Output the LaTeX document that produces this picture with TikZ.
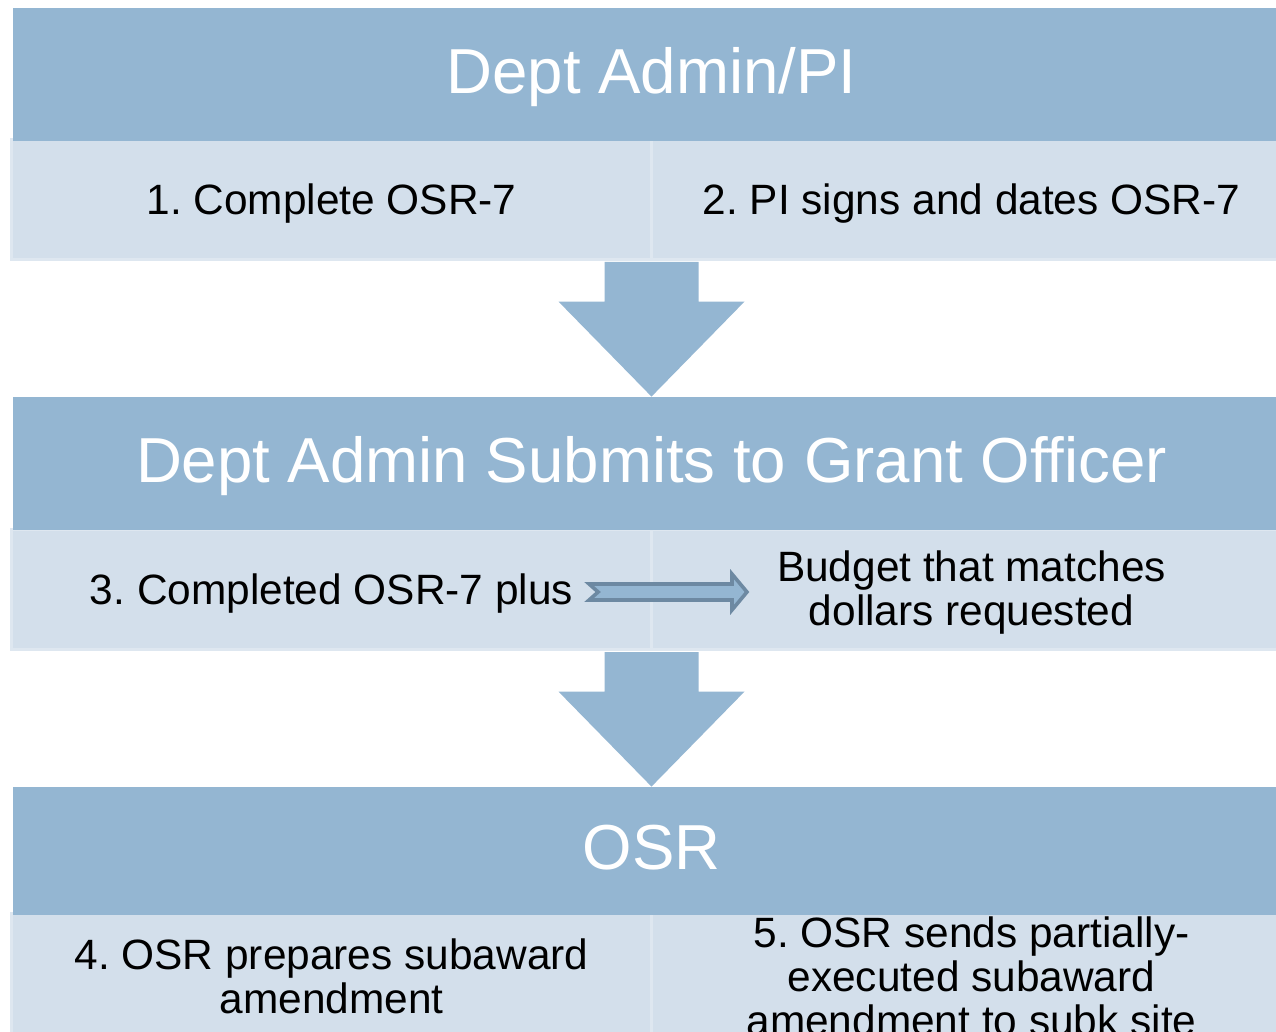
\documentclass[tikz,border=0pt]{standalone}
\usepackage{fontspec}
\setmainfont{Liberation Sans}
\usetikzlibrary{calc,positioning}

\definecolor{hdrblue}{RGB}{148,182,210}
\definecolor{cellblue}{RGB}{211,223,235}
\definecolor{celledge}{RGB}{222,231,240}
\definecolor{arrowedge}{RGB}{109,137,162}

\tikzset{
  header/.style={fill=hdrblue, text=white, minimum width=638.5pt, inner sep=0pt,
    font=\fontsize{31.8}{36}\selectfont, text height=22.9pt, text depth=4.1pt},
  cell/.style={fill=cellblue, draw=celledge, line width=1.5pt,
    minimum width=320pt, minimum height=60pt, inner sep=0pt},
  celltext/.style={font=\fontsize{21.2}{22}\selectfont},
  oneline/.style={text height=15.3pt, text depth=0pt},
  lines/.style={align=center, yshift=-1.5pt},
  bigarrow/.style={fill=hdrblue},
  smallarrow/.style={fill=hdrblue, draw=arrowedge, line width=1.8pt, line join=miter}
}

\begin{document}
\frenchspacing
\begin{tikzpicture}[x=0.5pt, y=-0.5pt]
    \useasboundingbox (0,0) rectangle (1276,1032);
    \clip (0,0) rectangle (1276,1032);

    \node[cell] (c1l) at (331.5,199.5) {};
    \node[cell] (c1r) at (971.5,199.5) {};
    \node[cell] (c2l) at (331.5,589.5) {};
    \node[cell] (c2r) at (971.5,589.5) {};
    \node[cell] (c3l) at (331.5,973.5) {};
    \node[cell] (c3r) at (971.5,973.5) {};

    \node[header, minimum height=66.5pt] (h1) at (651.5,74.5) {Dept Admin/PI};
    \node[header, minimum height=66.5pt] (h2) at (651.5,463.5) {Dept Admin Submits to Grant Officer};
    \node[header, minimum height=64pt] (h3) at (651.5,851) {OSR};

    \node[celltext, oneline] (t1) at (c1l) {1. Complete OSR-7};
    \node[celltext, oneline] (t2) at (c1r) {2. PI signs and dates OSR-7};
    \node[celltext, oneline] (t3) at (c2l) {3. Completed OSR-7 plus};
    \node[celltext, lines] (b3) at (c2r) {Budget that matches\\dollars requested};
    \node[celltext, lines] (t4) at (c3l) {4. OSR prepares subaward\\amendment};
    \node[celltext, lines] (t5) at (c3r) {5. OSR sends partially-\\executed subaward\\amendment to subk site};

    \foreach \a/\b in {c1l/h2, c2l/h3} {
        \fill[bigarrow] let \p1=(\b.north), \p2=(\a.south) in
            (\x1-23.5pt,\y2-0.5pt) -- (\x1+23.5pt,\y2-0.5pt) -- (\x1+23.5pt,\y1+47.5pt)
            -- (\x1+46.5pt,\y1+47.5pt) -- (\x1,\y1) -- (\x1-46.5pt,\y1+47.5pt)
            -- (\x1-23.5pt,\y1+47.5pt) -- cycle;
    }

    \draw[smallarrow] let \p1=([yshift=-1.25pt]t3.east), \p2=(b3.west) in
        (\x1+4.5pt,\y1+4pt) -- (\x2-19pt,\y1+4pt) -- (\x2-19pt,\y1+9pt) -- (\x2-11.5pt,\y1)
        -- (\x2-19pt,\y1-9pt) -- (\x2-19pt,\y1-4pt) -- (\x1+4.5pt,\y1-4pt)
        -- (\x1+9pt,\y1) -- cycle;
\end{tikzpicture}
\end{document}
